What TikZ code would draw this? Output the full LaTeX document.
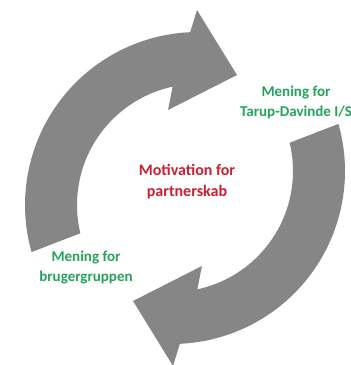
\documentclass[tikz,border=0pt]{standalone}
\usepackage{fontspec}
\setmainfont{Carlito}
\usepackage{tikz}
\definecolor{arrowgray}{RGB}{134,134,134}
\definecolor{meninggreen}{RGB}{38,163,90}
\definecolor{motivred}{RGB}{200,32,48}

\begin{document}
\begin{tikzpicture}[x=1pt,y=1pt]
                \tikzstyle{cyclearrow} = [fill=arrowgray, draw=none]
                \tikzstyle{greentext} = [text=meninggreen, align=center, inner sep=0pt, font=\bfseries\fontsize{15}{20}\selectfont]
                \tikzstyle{redtext} = [text=motivred, align=center, inner sep=0pt, font=\bfseries\fontsize{16}{21}\selectfont]
                \useasboundingbox (0,0) rectangle (351,365);
                \coordinate (upper) at (198,160);
                \coordinate (lower) at (172,194);

                % upper arrow, pointing right
                \fill [cyclearrow] ([shift={(195.8:173)}]upper) arc[start angle=195.8, end angle=92.6, radius=173]
                    -- ([shift={(90.3:195)}]upper) -- ([shift={(73.3:135.7)}]upper) -- ([shift={(107.5:99.6)}]upper)
                    -- ([shift={(102.1:121)}]upper) arc[start angle=102.1, end angle=193.5, radius=121] -- cycle;
                % lower arrow, pointing left
                \fill [cyclearrow] ([shift={(15.8:173)}]lower) arc[start angle=15.8, end angle=-87.4, radius=173]
                    -- ([shift={(270.3:195)}]lower) -- ([shift={(253.3:135.7)}]lower) -- ([shift={(287.5:99.6)}]lower)
                    -- ([shift={(282.1:121)}]lower) arc[start angle=282.1, end angle=373.5, radius=121] -- cycle;

                \node (tarup) [greentext] at (296,263) {Mening for\\Tarup-Davinde I/S};
                \node (motiv) [redtext] at (187,183) {Motivation for\\partnerskab};
                \node (bruger) [greentext] at (86,97) {Mening for\\brugergruppen};
            \end{tikzpicture}
\end{document}
